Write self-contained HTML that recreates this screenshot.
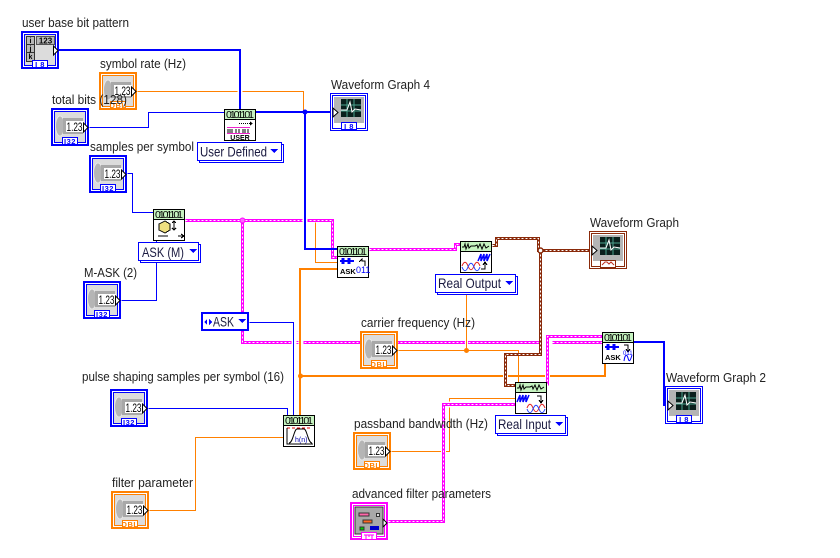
<!DOCTYPE html>
<html><head><meta charset="utf-8"><style>
html,body{margin:0;padding:0;background:#fff;width:840px;height:558px;overflow:hidden}
svg{display:block}
text{font-family:"Liberation Sans",sans-serif;fill:#222}
.l{font-size:13px}
.r{font-size:14px;fill:#1a1a40}
.d{font-size:12px;fill:#000}
.t{font-size:7.5px;font-weight:bold;text-anchor:middle;letter-spacing:.5px}
.h{font-size:10.5px;fill:#000}
.w{fill:none;stroke-linejoin:miter}
.o{stroke:#ff8000;stroke-width:1}
.b{stroke:#0000ff;stroke-width:1}
.B{stroke:#0000ff;stroke-width:2}
.O{stroke:#ff8000;stroke-width:2}
.p{stroke:#ff00ff;stroke-width:3}
.pd{stroke:#fff;stroke-width:1;stroke-dasharray:2 2}
.br{stroke:#8a2a0a;stroke-width:3}
.hl{stroke:#fff;stroke-width:5}
.hs{stroke:#fff;stroke-width:3}
</style></head><body>
<svg width="840" height="558" viewBox="0 0 840 558" xmlns="http://www.w3.org/2000/svg" shape-rendering="crispEdges">
<defs>
<g id="num">
<rect x="1" y="1" width="36" height="36" fill="#fff" stroke="currentColor" stroke-width="2"/>
<rect x="3.5" y="3.5" width="31" height="31" fill="#dcdcdc" stroke="currentColor"/>
<ellipse cx="9" cy="18" rx="4.5" ry="10" fill="#b5b5b5" stroke="#e8e8e8" shape-rendering="auto"/>
<rect x="12" y="10" width="20" height="16" fill="#a8a8a8"/>
<rect x="15" y="13" width="18" height="11" fill="#fff"/>
<path d="M32.5 15 L37 19.5 L32.5 24 Z" fill="#fff" stroke="#000" shape-rendering="auto"/>
<rect x="11.5" y="29.5" width="15" height="7" fill="#fff" stroke="currentColor"/>
</g>
<g id="ind">
<rect x=".5" y=".5" width="37" height="37" fill="#fff" stroke="currentColor"/>
<rect x="2.5" y="2.5" width="33" height="33" fill="#fff" stroke="currentColor"/>
<rect x="4" y="4" width="30" height="26" fill="#b4b4b4"/>
<rect x="11" y="6" width="20" height="18" fill="#0a1f1c"/>
<path d="M11 12H31M11 18H31M17 6V24M24 6V24" stroke="#4aa08c" fill="none"/>
<path d="M11 17H17L20 9L22 19L25 16L31 17" stroke="#fff" fill="none" shape-rendering="auto"/>
<path d="M3 15 L8 19.5 L3 24 Z" fill="#fff" stroke="#000" shape-rendering="auto"/>
<rect x="11.5" y="29.5" width="15" height="7" fill="#fff" stroke="currentColor"/>
</g>
<g id="node">
<rect x=".5" y=".5" width="31" height="31" fill="#fff" stroke="#000"/>
<rect x="1" y="1" width="30" height="9" fill="#c6f3c0"/>
<path d="M1 10.5H31" stroke="#000"/>
</g>
</defs>

<rect width="840" height="558" fill="#fff"/>

<g transform="translate(.5,.5)">
<path class="w o" d="M137 91H303V112"/>
<path class="w o" d="M315 222V262H337"/>
<path class="w b" d="M89 127H148V112H224"/>
<path class="w b" d="M127 173H132V212H153"/>
<path class="w b" d="M121 300H156V240"/>
<path class="w o" d="M391 451H449V398H515"/>
<path class="w o" d="M398 350H518V382"/>
<path class="w o" d="M149 510H195V437H283"/>
<path class="w b" d="M148 408H287V415"/>
<path class="w p" d="M185 220H332V257H337"/>
<path class="w p" d="M242 220V342H602"/>
<path class="w pd" d="M185 220H332V257H337"/>
<path class="w pd" d="M242 220V342H602"/>
</g>
<path class="w hl" d="M240 60V109"/>
<path class="w hl" d="M305 212V228"/>
<path class="w hl" d="M294 336V348"/>
<path class="w hl" d="M301 336V348"/>
<path class="w hs" d="M466.5 338V346"/>
<path class="w hl" d="M546 338V346" style="stroke-width:13"/>
<path class="w O" d="M300 415V269H337"/>
<path class="w O" d="M300 376H605V364"/>
<g transform="translate(.5,.5)">
<path class="w o" d="M466 293V350"/>
<path class="w b" d="M249 322H293V415"/>
</g>
<path class="w hl" d="M505.500 370V382"/>
<path class="w hl" d="M547.500 370V382"/>
<path class="w hl" d="M443.500 445V456"/>
<path class="w hl" d="M445 404.500H453" style="stroke-width:6"/>
<g transform="translate(.5,.5)">
<path class="w br" d="M492 245H496V238H538V250H589"/>
<path class="w br" d="M540 250V354H505V385H515"/>
<path class="w pd" d="M492 245H496V238H538V250H589"/>
<path class="w pd" d="M540 250V354H505V385H515"/>
<path class="w p" d="M369 249H455V244H460"/>
<path class="w pd" d="M369 249H455V244H460"/>
<path class="w p" d="M547 385V336H602"/>
<path class="w pd" d="M547 385V336H602"/>
<path class="w p" d="M388 521H443V404H515"/>
<path class="w pd" d="M388 521H443V404H515"/>
</g>
<path class="w B" d="M58 50H240V109"/>
<path class="w B" d="M256 112H331"/>
<path class="w B" d="M305 112V249H337"/>
<path class="w B" d="M634 342H664V405H668"/>
<g shape-rendering="auto">
<circle cx="305" cy="112" r="2.500" fill="#0000ff"/>
<circle cx="242.500" cy="220.500" r="2.500" fill="#ff66ff" stroke="#ff00ff"/>
<circle cx="540.500" cy="250.500" r="2.500" fill="#fff" stroke="#8a2a0a" stroke-width="1.500"/>
<circle cx="466.500" cy="350.500" r="2.500" fill="#ff8000"/>
<circle cx="300.500" cy="376" r="2.500" fill="#ff8000"/>
</g>

<!-- numeric terminals -->
<g transform="translate(99,72)" color="#ff8000"><use href="#num"/><text class="d" x="15.500" y="23" textLength="16" lengthAdjust="spacingAndGlyphs">1.23</text><text class="t" x="19" y="36" style="fill:#ff8000">DBL</text></g>
<g transform="translate(51,108)" color="#0000ff"><use href="#num"/><text class="d" x="15.500" y="23" textLength="16" lengthAdjust="spacingAndGlyphs">1.23</text><text class="t" x="19" y="36" style="fill:#0000ff">I32</text></g>
<g transform="translate(89,155)" color="#0000ff"><use href="#num"/><text class="d" x="15.500" y="23" textLength="16" lengthAdjust="spacingAndGlyphs">1.23</text><text class="t" x="19" y="36" style="fill:#0000ff">I32</text></g>
<g transform="translate(83,281)" color="#0000ff"><use href="#num"/><text class="d" x="15.500" y="23" textLength="16" lengthAdjust="spacingAndGlyphs">1.23</text><text class="t" x="19" y="36" style="fill:#0000ff">I32</text></g>
<g transform="translate(110,389)" color="#0000ff"><use href="#num"/><text class="d" x="15.500" y="23" textLength="16" lengthAdjust="spacingAndGlyphs">1.23</text><text class="t" x="19" y="36" style="fill:#0000ff">I32</text></g>
<g transform="translate(111,491)" color="#ff8000"><use href="#num"/><text class="d" x="15.500" y="23" textLength="16" lengthAdjust="spacingAndGlyphs">1.23</text><text class="t" x="19" y="36" style="fill:#ff8000">DBL</text></g>
<g transform="translate(360,331)" color="#ff8000"><use href="#num"/><text class="d" x="15.500" y="23" textLength="16" lengthAdjust="spacingAndGlyphs">1.23</text><text class="t" x="19" y="36" style="fill:#ff8000">DBL</text></g>
<g transform="translate(353,432)" color="#ff8000"><use href="#num"/><text class="d" x="15.500" y="23" textLength="16" lengthAdjust="spacingAndGlyphs">1.23</text><text class="t" x="19" y="36" style="fill:#ff8000">DBL</text></g>

<!-- array control -->
<g transform="translate(21,31)" color="#0000ff">
<rect x="1" y="1" width="36" height="36" fill="#fff" stroke="currentColor" stroke-width="2"/>
<rect x="3.500" y="3.500" width="31" height="31" fill="#dcdcdc" stroke="currentColor"/>
<rect x="5.500" y="5.500" width="8" height="25" fill="#b8b8b8" stroke="#333"/>
<path d="M6 13.500H13M6 21.500H13" stroke="#333"/>
<rect x="15.500" y="5.500" width="18" height="8" fill="#b8b8b8" stroke="#555"/>
<text x="24.500" y="12.500" style="font-size:8px;font-weight:bold;text-anchor:middle;fill:#000">123</text>
<text x="9.500" y="12" style="font-size:7px;font-weight:bold;text-anchor:middle;fill:#000">i</text>
<text x="9.500" y="20" style="font-size:7px;font-weight:bold;text-anchor:middle;fill:#000">j</text>
<text x="9.500" y="28" style="font-size:7px;font-weight:bold;text-anchor:middle;fill:#000">k</text>
<path d="M32.500 15 L37 19.500 L32.500 24 Z" fill="#fff" stroke="#000" shape-rendering="auto"/>
<rect x="11.500" y="29.500" width="15" height="7" fill="#fff" stroke="currentColor"/>
<text class="t" x="19" y="36" style="fill:#0000ff">I 8</text>
</g>

<!-- cluster control -->
<g transform="translate(350,502)" color="#ff00ff">
<rect x="1" y="1" width="36" height="36" fill="#fff" stroke="currentColor" stroke-width="2"/>
<rect x="3.500" y="3.500" width="31" height="31" fill="#fff" stroke="currentColor"/>
<rect x="5" y="5" width="28" height="27" fill="#a8a8a8" stroke="#333"/>
<rect x="9" y="11" width="10" height="3" fill="#ff66aa" stroke="#333"/>
<rect x="26.500" y="11.500" width="3" height="3" fill="#ddd" stroke="#333"/>
<rect x="13" y="18" width="9" height="3" fill="#ff6622" stroke="#333"/>
<rect x="10" y="25" width="4" height="3" fill="#00cc00" stroke="#333"/>
<rect x="20" y="24" width="9" height="4" fill="#0000cc"/>
<path d="M33 17 L37 21 L33 25 Z" fill="#fff" stroke="#000" shape-rendering="auto"/>
<rect x="11.500" y="30.500" width="15" height="7" fill="#fff" stroke="currentColor"/>
<path d="M14 33H24M16 33V37M22 33V37M19 33V35" stroke="#ff00ff" fill="none"/>
</g>

<!-- indicators -->
<g transform="translate(330,93)" color="#0000ff"><use href="#ind"/><text class="t" x="19" y="36" style="fill:#0000ff">I 8</text></g>
<g transform="translate(665,386)" color="#0000ff"><use href="#ind"/><text class="t" x="19" y="36" style="fill:#0000ff">I 8</text></g>
<g transform="translate(589,231)" color="#8a2a0a"><use href="#ind"/><path d="M13 34L16 31H18L20 33L22 31L25 34" fill="none" stroke="#c03020" shape-rendering="auto"/></g>

<!-- nodes -->
<g transform="translate(224,109)"><use href="#node"/><text class="h" x="2" y="9" textLength="28" lengthAdjust="spacing">0101101</text>
<path d="M15 14.500H28" stroke="#000" stroke-dasharray="1 1"/><path d="M26 12.500L29 14.500L26 16.500Z"/>
<path d="M3 18.500H26M3 24.500H26" stroke="#ee22cc"/><path d="M4 20V24M6 20V24M8 20V24M12 20V24M15 20V24M19 20V24M21 20V24M24 20V24" stroke="#000"/>
<text x="16" y="31" style="font-size:7px;font-weight:bold;text-anchor:middle;fill:#000">USER</text></g>

<g transform="translate(153,209)"><use href="#node"/><text class="h" x="2" y="9" textLength="28" lengthAdjust="spacing">0101101</text>
<path d="M6 15L12 12L17 15V21L12 24L6 21Z" fill="#f0e080" stroke="#000"/><path d="M21 12V21M19 14L21 12L23 14M19 19L21 21L23 19M5 27H15M25 27H31M28 25L31 27L28 29" fill="none" stroke="#000"/></g>

<g transform="translate(337,246)"><use href="#node"/><text class="h" x="2" y="9" textLength="28" lengthAdjust="spacing">0101101</text>
<path d="M3 15H17" stroke="#0000ff" stroke-width="2"/><path d="M6 12V18M12 12V18" stroke="#0000ff" stroke-width="3"/><path d="M22 16L25 13V15H28V20" fill="none" stroke="#000"/>
<text x="3" y="28" style="font-size:7.500px;font-weight:bold;fill:#000">ASK</text><text x="19" y="27" style="font-size:9px;fill:#0000ff">011</text></g>

<g transform="translate(460,241)"><use href="#node"/><path d="M2 6H4L5 3L6 8L8 3L9 7L11 5H15L17 4L18 7L20 3L22 8L24 3L26 7L29 5" fill="none" stroke="#000" shape-rendering="auto"/>
<path d="M18 20L21 13V20L24 13V20L27 13V20L30 13" fill="none" stroke="#0000ff" stroke-width="1.500" shape-rendering="auto"/>
<path d="M2 25C4 20 6 20 8 25S12 30 14 25S18 20 20 25" fill="none" stroke="#e02020" shape-rendering="auto"/><path d="M2 26C4 31 6 31 8 26S12 21 14 26S18 31 20 26" fill="none" stroke="#2040ff" shape-rendering="auto"/><path d="M21 28H25V22M23 24L25 21L27 24" fill="none" stroke="#000"/></g>

<g transform="translate(515,382)"><use href="#node"/><path d="M2 6H4L5 3L6 8L8 3L9 7L11 5H15L17 4L18 7L20 3L22 8L24 3L26 7L29 5" fill="none" stroke="#000" shape-rendering="auto"/>
<path d="M2 20L5 13V20L8 13V20L11 13V20L14 13" fill="none" stroke="#0000ff" stroke-width="1.500" shape-rendering="auto"/>
<path d="M22 14H26V20M24 18L26 21L28 18" fill="none" stroke="#000"/>
<path d="M12 26C14 21 16 21 18 26S22 31 24 26S28 21 30 26" fill="none" stroke="#e02020" shape-rendering="auto"/><path d="M12 27C14 32 16 32 18 27S22 22 24 27S28 32 30 27" fill="none" stroke="#2040ff" shape-rendering="auto"/></g>

<g transform="translate(602,332)"><use href="#node"/><text class="h" x="2" y="9" textLength="28" lengthAdjust="spacing">0101101</text>
<path d="M3 15H17" stroke="#0000ff" stroke-width="2"/><path d="M6 12V18M12 12V18" stroke="#0000ff" stroke-width="3"/><path d="M22 13H26V19M24 17L26 20L28 17" fill="none" stroke="#000"/>
<text x="3" y="28" style="font-size:7.500px;font-weight:bold;fill:#000">ASK</text><text x="21" y="23" style="font-size:6px;fill:#0000ff">011</text><path d="M22 29C23 22 25 22 26 26S28 30 30 23" fill="none" stroke="#0000ff" shape-rendering="auto"/></g>

<g transform="translate(283,415)"><use href="#node"/><text class="h" x="2" y="9" textLength="28" lengthAdjust="spacing">0101101</text>
<path d="M4 13H29" stroke="#e00000" stroke-dasharray="3 2"/><path d="M4 13V29H30M6 28C10 28 11 14 14 14H21C24 14 25 28 29 28" fill="none" stroke="#000" shape-rendering="auto"/>
<text x="12" y="27" style="font-size:7px;fill:#0000aa">h(n)</text></g>

<!-- rings -->
<rect x="199.500" y="144.500" width="84" height="18" fill="#fff" stroke="#0000ff"/><rect x="197.500" y="142.500" width="84" height="18" fill="#fff" stroke="#0000ff"/>
<text class="r" x="200" y="156.500" textLength="67" lengthAdjust="spacingAndGlyphs">User Defined</text><path d="M270 149H278L274 153Z" fill="#0000ff"/>

<rect x="140.500" y="244.500" width="60" height="18" fill="#fff" stroke="#0000ff"/><rect x="138.500" y="242.500" width="60" height="18" fill="#fff" stroke="#0000ff"/>
<text class="r" x="142" y="257" textLength="42" lengthAdjust="spacingAndGlyphs">ASK (M)</text><path d="M189 249H197L193 253Z" fill="#0000ff"/>

<rect x="437.500" y="276.500" width="80" height="18" fill="#fff" stroke="#0000ff"/><rect x="435.500" y="274.500" width="80" height="18" fill="#fff" stroke="#0000ff"/>
<text class="r" x="438" y="288" textLength="63" lengthAdjust="spacingAndGlyphs">Real Output</text><path d="M505 281H513L509 285Z" fill="#0000ff"/>

<rect x="497.500" y="417.500" width="70" height="18" fill="#fff" stroke="#0000ff"/><rect x="495.500" y="415.500" width="70" height="18" fill="#fff" stroke="#0000ff"/>
<text class="r" x="498" y="429" textLength="53" lengthAdjust="spacingAndGlyphs">Real Input</text><path d="M555 422H563L559 426Z" fill="#0000ff"/>

<rect x="202" y="313" width="46" height="17" fill="#fff" stroke="#0000ff" stroke-width="2"/>
<path d="M207 319V325L204 322ZM209 319V325L212 322Z" fill="#0000ff"/>
<text class="r" x="213" y="326.500" textLength="21" lengthAdjust="spacingAndGlyphs">ASK</text><path d="M238 319H246L242 323Z" fill="#0000ff"/>

<!-- labels -->
<g shape-rendering="auto">
<text class="l" x="22" y="27" textLength="107" lengthAdjust="spacingAndGlyphs">user base bit pattern</text>
<text class="l" x="100" y="68" textLength="86" lengthAdjust="spacingAndGlyphs">symbol rate (Hz)</text>
<text class="l" x="52" y="104" textLength="75" lengthAdjust="spacingAndGlyphs">total bits (128)</text>
<text class="l" x="90" y="151" textLength="104" lengthAdjust="spacingAndGlyphs">samples per symbol</text>
<text class="l" x="331" y="89" textLength="99" lengthAdjust="spacingAndGlyphs">Waveform Graph 4</text>
<text class="l" x="590" y="227" textLength="89" lengthAdjust="spacingAndGlyphs">Waveform Graph</text>
<text class="l" x="84" y="277" textLength="53" lengthAdjust="spacingAndGlyphs">M-ASK (2)</text>
<text class="l" x="361" y="327" textLength="114" lengthAdjust="spacingAndGlyphs">carrier frequency (Hz)</text>
<text class="l" x="82" y="381" textLength="202" lengthAdjust="spacingAndGlyphs">pulse shaping samples per symbol (16)</text>
<text class="l" x="354" y="428" textLength="134" lengthAdjust="spacingAndGlyphs">passband bandwidth (Hz)</text>
<text class="l" x="352" y="498" textLength="139" lengthAdjust="spacingAndGlyphs">advanced filter parameters</text>
<text class="l" x="112" y="487" textLength="81" lengthAdjust="spacingAndGlyphs">filter parameter</text>
<text class="l" x="666" y="382" textLength="100" lengthAdjust="spacingAndGlyphs">Waveform Graph 2</text>
</g>
</svg>
</body></html>
